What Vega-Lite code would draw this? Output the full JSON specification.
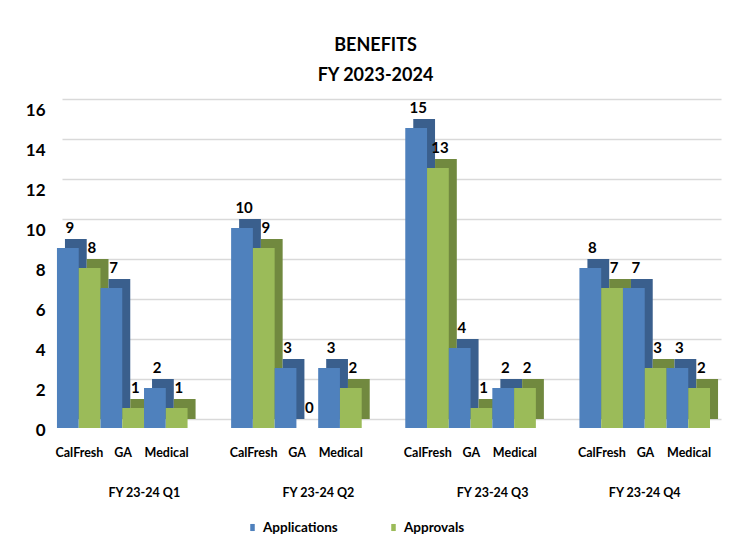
{
  "$schema": "https://vega.github.io/schema/vega-lite/v6.json",
  "width": 659,
  "height": 320,
  "autosize": {"type": "none"},
  "padding": {"left": 62, "top": 99, "right": 35, "bottom": 131},
  "background": "white",
  "title": {
    "text": ["BENEFITS", "FY 2023-2024"],
    "font": "Lato",
    "fontSize": 18,
    "fontWeight": "bold",
    "color": "black",
    "lineHeight": 30,
    "offset": 14,
    "dx": -16
  },
  "config": {
    "view": {"stroke": null},
    "font": "Lato",
    "text": {"font": "Lato"}
  },
  "data": {
    "values": [
      {"quarter": "FY 23-24 Q1", "category": "CalFresh", "series": "Applications", "slot": "CalFresh Applications", "value": 9},
      {"quarter": "FY 23-24 Q1", "category": "CalFresh", "series": "Approvals", "slot": "CalFresh Approvals", "value": 8},
      {"quarter": "FY 23-24 Q1", "category": "GA", "series": "Applications", "slot": "GA Applications", "value": 7},
      {"quarter": "FY 23-24 Q1", "category": "GA", "series": "Approvals", "slot": "GA Approvals", "value": 1},
      {"quarter": "FY 23-24 Q1", "category": "Medical", "series": "Applications", "slot": "Medical Applications", "value": 2},
      {"quarter": "FY 23-24 Q1", "category": "Medical", "series": "Approvals", "slot": "Medical Approvals", "value": 1},
      {"quarter": "FY 23-24 Q2", "category": "CalFresh", "series": "Applications", "slot": "CalFresh Applications", "value": 10},
      {"quarter": "FY 23-24 Q2", "category": "CalFresh", "series": "Approvals", "slot": "CalFresh Approvals", "value": 9},
      {"quarter": "FY 23-24 Q2", "category": "GA", "series": "Applications", "slot": "GA Applications", "value": 3},
      {"quarter": "FY 23-24 Q2", "category": "GA", "series": "Approvals", "slot": "GA Approvals", "value": 0},
      {"quarter": "FY 23-24 Q2", "category": "Medical", "series": "Applications", "slot": "Medical Applications", "value": 3},
      {"quarter": "FY 23-24 Q2", "category": "Medical", "series": "Approvals", "slot": "Medical Approvals", "value": 2},
      {"quarter": "FY 23-24 Q3", "category": "CalFresh", "series": "Applications", "slot": "CalFresh Applications", "value": 15},
      {"quarter": "FY 23-24 Q3", "category": "CalFresh", "series": "Approvals", "slot": "CalFresh Approvals", "value": 13},
      {"quarter": "FY 23-24 Q3", "category": "GA", "series": "Applications", "slot": "GA Applications", "value": 4},
      {"quarter": "FY 23-24 Q3", "category": "GA", "series": "Approvals", "slot": "GA Approvals", "value": 1},
      {"quarter": "FY 23-24 Q3", "category": "Medical", "series": "Applications", "slot": "Medical Applications", "value": 2},
      {"quarter": "FY 23-24 Q3", "category": "Medical", "series": "Approvals", "slot": "Medical Approvals", "value": 2},
      {"quarter": "FY 23-24 Q4", "category": "CalFresh", "series": "Applications", "slot": "CalFresh Applications", "value": 8},
      {"quarter": "FY 23-24 Q4", "category": "CalFresh", "series": "Approvals", "slot": "CalFresh Approvals", "value": 7},
      {"quarter": "FY 23-24 Q4", "category": "GA", "series": "Applications", "slot": "GA Applications", "value": 7},
      {"quarter": "FY 23-24 Q4", "category": "GA", "series": "Approvals", "slot": "GA Approvals", "value": 3},
      {"quarter": "FY 23-24 Q4", "category": "Medical", "series": "Applications", "slot": "Medical Applications", "value": 3},
      {"quarter": "FY 23-24 Q4", "category": "Medical", "series": "Approvals", "slot": "Medical Approvals", "value": 2}
    ]
  },
  "encoding": {
    "x": {
      "field": "quarter",
      "type": "nominal",
      "sort": ["FY 23-24 Q1", "FY 23-24 Q2", "FY 23-24 Q3", "FY 23-24 Q4"],
      "scale": {"paddingInner": 0.25, "paddingOuter": 0.017},
      "axis": {
        "title": null,
        "domain": false,
        "ticks": false,
        "grid": false,
        "labelAngle": 0,
        "labelPadding": 67,
        "labelBaseline": "top",
        "labelFont": "Lato",
        "labelFontSize": 12.5,
        "labelFontWeight": "bold",
        "labelColor": "black",
        "labelOffset": {"condition": {"test": "datum.value === 'FY 23-24 Q4'", "value": -8}, "value": 14}
      }
    },
    "y": {
      "field": "value",
      "type": "quantitative",
      "scale": {"domain": [0, 16], "nice": false},
      "axis": {
        "title": null,
        "values": [0, 2, 4, 6, 8, 10, 12, 14, 16],
        "domain": false,
        "ticks": false,
        "grid": true,
        "gridColor": "#D9D9D9",
        "gridWidth": 1.5,
        "labelPadding": 17,
        "labelOffset": 11,
        "labelFont": "Lato",
        "labelFontSize": 17,
        "labelFontWeight": "bold",
        "labelColor": "black"
      }
    }
  },
  "resolve": {"scale": {"xOffset": "independent"}},
  "layer": [
    {
      "mark": {"type": "bar"},
      "encoding": {
        "xOffset": {
          "field": "slot",
          "type": "nominal",
          "sort": ["CalFresh Applications", "CalFresh Approvals", "GA Applications", "GA Approvals", "Medical Applications", "Medical Approvals"],
          "scale": {"paddingInner": 0, "paddingOuter": 0}
        },
        "fill": {
          "condition": {"test": "datum.series === 'Applications'", "value": "#3A5F8D"},
          "value": "#71893F"
        }
      }
    },
    {
      "mark": {"type": "bar", "yOffset": 9, "y2Offset": 9},
      "encoding": {
        "xOffset": {
          "field": "slot",
          "type": "nominal",
          "sort": ["CalFresh Applications", "CalFresh Approvals", "GA Applications", "GA Approvals", "Medical Applications", "Medical Approvals"],
          "scale": {"paddingInner": 0, "paddingOuter": 0, "range": [-8, 122.6]}
        },
        "color": {
          "field": "series",
          "type": "nominal",
          "scale": {"domain": ["Applications", "Approvals"], "range": ["#4F81BD", "#9BBB59"]},
          "legend": {
            "title": null,
            "orient": "none",
            "direction": "horizontal",
            "legendX": 183,
            "legendY": 421,
            "symbolType": "M-0.32,-0.5H0.32V0.5H-0.32Z",
            "symbolSize": 200,
            "symbolStrokeWidth": 0,
            "columnPadding": 48,
            "labelOffset": 3,
            "labelFont": "Lato",
            "labelFontSize": 13.5,
            "labelFontWeight": "bold",
            "labelColor": "black"
          }
        }
      }
    },
    {
      "mark": {"type": "text", "dy": -6, "baseline": "alphabetic", "align": "center", "fontSize": 15, "fontWeight": "bold", "color": "black"},
      "encoding": {
        "xOffset": {
          "field": "slot",
          "type": "nominal",
          "sort": ["CalFresh Applications", "CalFresh Approvals", "GA Applications", "GA Approvals", "Medical Applications", "Medical Approvals"],
          "scale": {"padding": 0, "range": [5, 113.8]}
        },
        "text": {"field": "value", "type": "quantitative"}
      }
    },
    {
      "transform": [{"filter": "datum.series === 'Applications'"}],
      "mark": {"type": "text", "dy": 34, "baseline": "middle", "align": "center", "fontSize": 12.5, "fontWeight": "bold", "color": "black"},
      "encoding": {
        "xOffset": {
          "field": "category",
          "type": "nominal",
          "sort": ["CalFresh", "GA", "Medical"],
          "scale": {"padding": 0, "range": [14.5, 101.6]}
        },
        "y": {"datum": 0},
        "text": {"field": "category", "type": "nominal"}
      }
    }
  ]
}
